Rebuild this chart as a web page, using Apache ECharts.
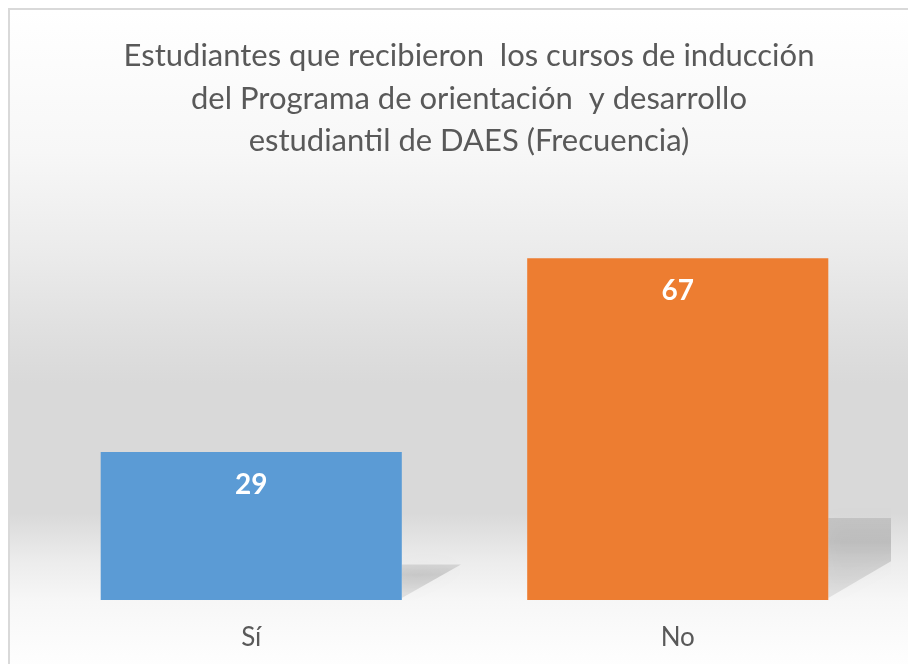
<!DOCTYPE html>
<html>
<head>
<meta charset="utf-8">
<script src="https://cdn.jsdelivr.net/npm/echarts@6/dist/echarts.min.js"></script>
<style>
  html, body { margin: 0; padding: 0; width: 908px; height: 664px; overflow: hidden; background: #ffffff; }
  #bg {
    position: absolute; left: 8px; top: 8px; width: 920px; height: 680px;
    border-left: 2px solid #d9d9d9; border-top: 2px solid #d9d9d9;
    background: linear-gradient(to bottom, #ffffff 0%, #f7f7f7 21%, #ebebeb 36%, #dfdfdf 48%, #d9d9d9 55%, #d9d9d9 74%, #ececec 81%, #f7f7f7 87%, #fdfdfd 95%, #ffffff 100%);
  }
  #chart { position: absolute; left: 0; top: 0; width: 908px; height: 664px; }
</style>
</head>
<body>
<div id="bg"></div>
<div id="chart"></div>
<script>
const categories = ['Sí', 'No'];
const values = [29, 67];
const barColors = ['#5B9BD5', '#ED7D31'];
const titleLines = [
  'Estudiantes que recibieron  los cursos de inducción',
  'del Programa de orientación  y desarrollo',
  'estudiantil de DAES (Frecuencia)'
];

const BAR_FRAC = 0.706;
const chart = echarts.init(document.getElementById('chart'), null, { renderer: 'canvas' });

const option = {
  backgroundColor: 'transparent',
  animation: false,
  title: {
    text: titleLines.join('\n'),
    left: 464,
    textAlign: 'center',
    top: 30,
    textStyle: {
      fontFamily: 'Lato',
      fontSize: 31,
      fontWeight: 'normal',
      color: '#595959',
      lineHeight: 42.5
    }
  },
  grid: { left: 38, right: 17, top: 192, bottom: 64, containLabel: false },
  xAxis: {
    type: 'category',
    data: categories,
    axisLine: { show: false },
    axisTick: { show: false },
    axisLabel: { fontFamily: 'Lato', fontSize: 26, color: '#595959', margin: 25 }
  },
  yAxis: {
    type: 'value', min: 0, max: 80, interval: 10, show: false,
    splitLine: { show: false }
  },
  series: [
    {
      type: 'custom',
      z: 1,
      clip: true,
      silent: true,
      data: values.map((v, i) => [i, v]),
      renderItem: function (params, api) {
        const base = api.coord([api.value(0), 0]);
        const top = api.coord([api.value(0), api.value(1)]);
        const bw = api.size([1, 0])[0] * BAR_FRAC;
        const xr = base[0] + bw / 2;
        const yb = base[1];
        const h = yb - top[1];
        const sh = 0.24 * h;
        const sw = 0.40 * h;
        return {
          type: 'polygon',
          shape: { points: [[xr, yb - 2], [xr, yb - sh], [xr + sw, yb - sh]] },
          style: {
            fill: new echarts.graphic.LinearGradient(0, 0, 0, 1, [
              { offset: 0, color: 'rgba(0,0,0,0.10)' },
              { offset: 0.3, color: 'rgba(0,0,0,0.15)' },
              { offset: 1, color: 'rgba(0,0,0,0.08)' }
            ]),
            shadowBlur: 18,
            shadowColor: 'rgba(0,0,0,0.16)'
          }
        };
      }
    },
    {
      type: 'bar',
      z: 3,
      barWidth: (BAR_FRAC * 100) + '%',
      data: values.map((v, i) => ({ value: v, itemStyle: { color: barColors[i] } })),
      label: {
        show: true,
        position: 'insideTop',
        distance: 19,
        fontFamily: 'Lato',
        fontSize: 28,
        fontWeight: 'bold',
        color: '#ffffff'
      }
    }
  ]
};
chart.setOption(option);
</script>
</body>
</html>
